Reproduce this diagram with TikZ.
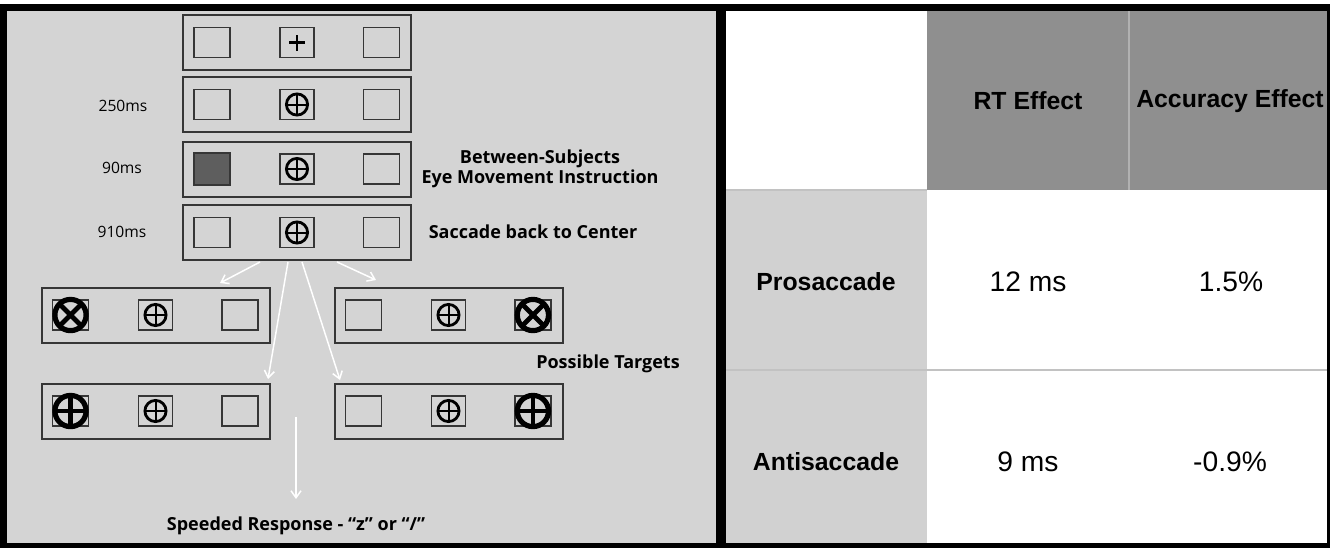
\documentclass[tikz,border=0pt]{standalone}
\usepackage{fontspec}
\setmainfont{Liberation Sans}
\newfontfamily\gillfont{Open Sans}
\usetikzlibrary{arrows.meta}

\definecolor{panel}{HTML}{D4D4D4}
\definecolor{hdrgray}{HTML}{8F8F8F}
\definecolor{lblgray}{HTML}{D1D1D1}
\definecolor{edge}{HTML}{363636}
\definecolor{darkfill}{HTML}{5E5E5E}
\definecolor{rule}{HTML}{C2C2C2}

% one stimulus display: outer frame with three placeholder boxes
\newcommand\stimrow[3]{%
  \node[frame] (#1) at (#2,#3) {};
  \node[slot, xshift=-42.5pt] (#1-l) at (#2,#3) {};
  \node[slot, minimum width=17pt] (#1-c) at (#2,#3) {};
  \node[slot, xshift=42.2pt] (#1-r) at (#2,#3) {};
}

\begin{document}
\begin{tikzpicture}[x=0.5pt,y=-0.5pt,
  frame/.style={draw=edge, line width=1pt, minimum width=114pt, minimum height=27.5pt, inner sep=0pt},
  slot/.style={draw=edge, line width=0.9pt, minimum width=18pt, minimum height=15pt, inner sep=0pt},
  flow/.style={draw=white, line width=0.75pt, -{Straight Barb[length=3.5pt,width=5pt]}},
  mslabel/.style={font=\gillfont\fontsize{7.8}{9}\selectfont, inner sep=0pt},
  boldlabel/.style={font=\gillfont\bfseries\fontsize{9}{10}\selectfont, inner sep=0pt, align=center},
  hdrtext/.style={font=\bfseries\fontsize{12.4}{14}\selectfont, inner sep=0pt},
  celltext/.style={font=\fontsize{14.1}{16}\selectfont, inner sep=0pt},
  fixplus/.pic={\draw[line width=1.3pt] (-4pt,0)--(4pt,0) (0,-4pt)--(0,4pt);},
  fixdot/.pic={\draw[line width=1.4pt] (0,0) circle[radius=5.3pt];
               \draw[line width=1pt] (-5.3pt,0)--(5.3pt,0) (0,-5.3pt)--(0,5.3pt);},
  tgtcross/.pic={\draw[line width=2.6pt] (0,0) circle[radius=7.8pt];
                 \draw[line width=2.4pt] (-5.5pt,-5.5pt)--(5.5pt,5.5pt) (-5.5pt,5.5pt)--(5.5pt,-5.5pt);},
  tgtplus/.pic={\draw[line width=2.6pt] (0,0) circle[radius=7.8pt];
                \draw[line width=2.4pt] (-7.8pt,0)--(7.8pt,0) (0,-7.8pt)--(0,7.8pt);}
]
\useasboundingbox (0,0) rectangle (1336,548);
\fill[white] (0,0) rectangle (1336,548);
% black outer frame and divider
\fill[black] (0,4) rectangle (1330,548);
\fill[panel] (7,11) rectangle (716,543);

% ---------------- table ----------------
\fill[white]    (726,11)  rectangle (927,190);
\fill[hdrgray]  (927,11)  rectangle (1327,190);
\fill[lblgray]  (726,190) rectangle (927,543);
\fill[white]    (927,190) rectangle (1327,543);
\draw[rule, line width=0.6pt] (726,190) -- (927,190);
\draw[rule, line width=0.6pt] (726,370) -- (1327,370);
\draw[hdrgray!70!white, line width=0.6pt] (1129,11) -- (1129,190);

\node[hdrtext] (h-rt)  at (1028,101) {RT Effect};
\node[hdrtext] (h-acc) at (1230,101) {Accuracy Effect};
\node[hdrtext] (r-pro) at (826,282) {Prosaccade};
\node[hdrtext] (r-anti) at (826,462) {Antisaccade};
\node[celltext] (pro-rt)  at (1028,282) {12 ms};
\node[celltext] (pro-acc) at (1231,282) {1.5\%};
\node[celltext] (anti-rt)  at (1028,462) {9 ms};
\node[celltext] (anti-acc) at (1230,462) {-0.9\%};

% ---------------- trial sequence ----------------
\stimrow{s1}{297}{42.5}
\stimrow{s2}{297}{104.5}
\stimrow{s3}{297}{169}
\stimrow{s4}{297}{232.5}
\node[slot, fill=darkfill, minimum height=16pt] (cue) at (s3-l) {};

\pic at (s1-c) {fixplus};
\pic at (s2-c) {fixdot};
\pic at (s3-c) {fixdot};
\pic at (s4-c) {fixdot};

\node[mslabel] (t250) at (123,106) {250ms};
\node[mslabel] (t90)  at (122,168) {90ms};
\node[mslabel] (t910) at (122,232) {910ms};

\node[boldlabel] (instr) at (540,169) {Between-Subjects\\Eye Movement Instruction};
\node[boldlabel] (back)  at (533,232) {Saccade back to Center};

% ---------------- possible targets ----------------
\stimrow{ta}{155.5}{315}
\stimrow{tb}{448.5}{315}
\stimrow{tc}{155.5}{411}
\stimrow{td}{448.5}{411}

\pic at (ta-l) {tgtcross};
\pic at (ta-c) {fixdot};
\pic at (tb-c) {fixdot};
\pic at (tb-r) {tgtcross};
\pic at (tc-l) {tgtplus};
\pic at (tc-c) {fixdot};
\pic at (td-c) {fixdot};
\pic at (td-r) {tgtplus};

\node[boldlabel] (possible) at (608,364) {Possible Targets};
\node[boldlabel] (resp) at (296,526) {Speeded Response - “z” or “/”};

% arrows from the last display to the targets and the response
\coordinate (a1s) at (260,262); \coordinate (a1e) at (220,283);
\coordinate (a2s) at (288,262); \coordinate (a2e) at (268,379);
\coordinate (a3s) at (302,262); \coordinate (a3e) at (340,380);
\coordinate (a4s) at (337,262); \coordinate (a4e) at (376,280);
\coordinate (a5s) at (296,417); \coordinate (a5e) at (296,499);
\draw[flow] (a1s) -- (a1e);
\draw[flow] (a2s) -- (a2e);
\draw[flow] (a3s) -- (a3e);
\draw[flow] (a4s) -- (a4e);
\draw[flow] (a5s) -- (a5e);
\end{tikzpicture}
\end{document}
